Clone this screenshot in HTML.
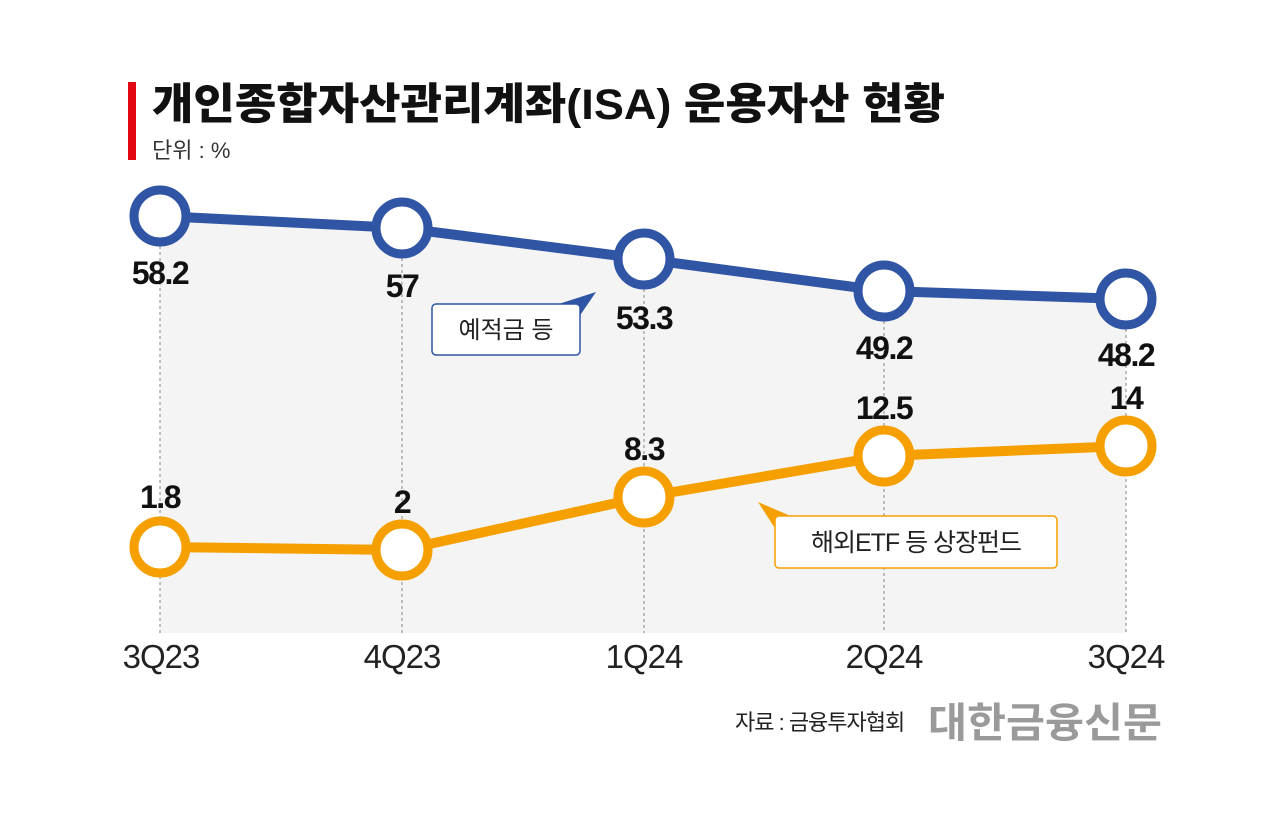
<!DOCTYPE html>
<html><head><meta charset="utf-8"><style>
body{margin:0;background:#fff;}
svg text{font-family:"Liberation Sans","Noto Sans CJK KR",sans-serif;}
</style></head><body>
<svg width="1280" height="811" viewBox="0 0 1280 811" xmlns="http://www.w3.org/2000/svg">
<rect width="1280" height="811" fill="#fff"/>
<rect x="128" y="82" width="8" height="78" fill="#e30613"/>
<text x="152" y="119" font-size="43" font-weight="900" fill="#111" textLength="793" lengthAdjust="spacingAndGlyphs">개인종합자산관리계좌(ISA) 운용자산 현황</text>
<text x="152" y="158" font-size="22" fill="#333">단위 : %</text>
<polygon points="160,216 402,228 644,259 884,291 1126,299 1126,633 160,633" fill="#f4f4f4"/>
<g stroke="#999" stroke-width="1.2" stroke-dasharray="3,3">
<line x1="160" y1="216" x2="160" y2="633"/><line x1="402" y1="228" x2="402" y2="633"/>
<line x1="644" y1="259" x2="644" y2="633"/><line x1="884" y1="291" x2="884" y2="633"/>
<line x1="1126" y1="299" x2="1126" y2="633"/></g>
<polyline points="160,216 402,228 644,259 884,291 1126,299" fill="none" stroke="#2f55a4" stroke-width="10"/>
<polyline points="160,547 402,550 644,497 884,456 1126,446" fill="none" stroke="#f5a000" stroke-width="10"/>
<g fill="#fff" stroke="#2f55a4" stroke-width="9">
<circle cx="160" cy="216" r="26"/><circle cx="402" cy="228" r="26"/><circle cx="644" cy="259" r="26"/><circle cx="884" cy="291" r="26"/><circle cx="1126" cy="299" r="26"/></g>
<g fill="#fff" stroke="#f5a000" stroke-width="9">
<circle cx="160" cy="547" r="26"/><circle cx="402" cy="550" r="26"/><circle cx="644" cy="497" r="26"/><circle cx="884" cy="456" r="26"/><circle cx="1126" cy="446" r="26"/></g>
<g font-size="32" font-weight="bold" fill="#111" text-anchor="middle" letter-spacing="-1.5">
<text x="160" y="284">58.2</text><text x="402" y="297">57</text><text x="644" y="329">53.3</text><text x="884" y="359">49.2</text><text x="1126" y="366">48.2</text>
<text x="160" y="508">1.8</text><text x="402" y="513">2</text><text x="644" y="460">8.3</text><text x="884" y="419">12.5</text><text x="1126" y="409">14</text></g>
<polygon points="540,310 596,292 570,330" fill="#2f55a4"/>
<rect x="432" y="304" width="148" height="51" rx="4" fill="#fff" stroke="#2f55a4" stroke-width="1.5"/>
<text x="506" y="338" font-size="24" fill="#222" text-anchor="middle">예적금 등</text>
<polygon points="758,502 800,520 780,536" fill="#f5a000"/>
<rect x="775" y="516" width="282" height="52" rx="4" fill="#fff" stroke="#f5a000" stroke-width="1.5"/>
<text x="916" y="551" font-size="25" fill="#222" text-anchor="middle" letter-spacing="-1">해외ETF 등 상장펀드</text>
<g font-size="33" fill="#222" text-anchor="middle" letter-spacing="-1">
<text x="161" y="668">3Q23</text><text x="402" y="668">4Q23</text><text x="644" y="668">1Q24</text><text x="884" y="668">2Q24</text><text x="1126" y="668">3Q24</text></g>
<text x="735" y="730" font-size="22" fill="#222" letter-spacing="-1">자료 : 금융투자협회</text>
<text x="928" y="737" font-size="41" font-weight="bold" fill="#9a9a9a" textLength="234" lengthAdjust="spacingAndGlyphs">대한금융신문</text>
</svg>
</body></html>
